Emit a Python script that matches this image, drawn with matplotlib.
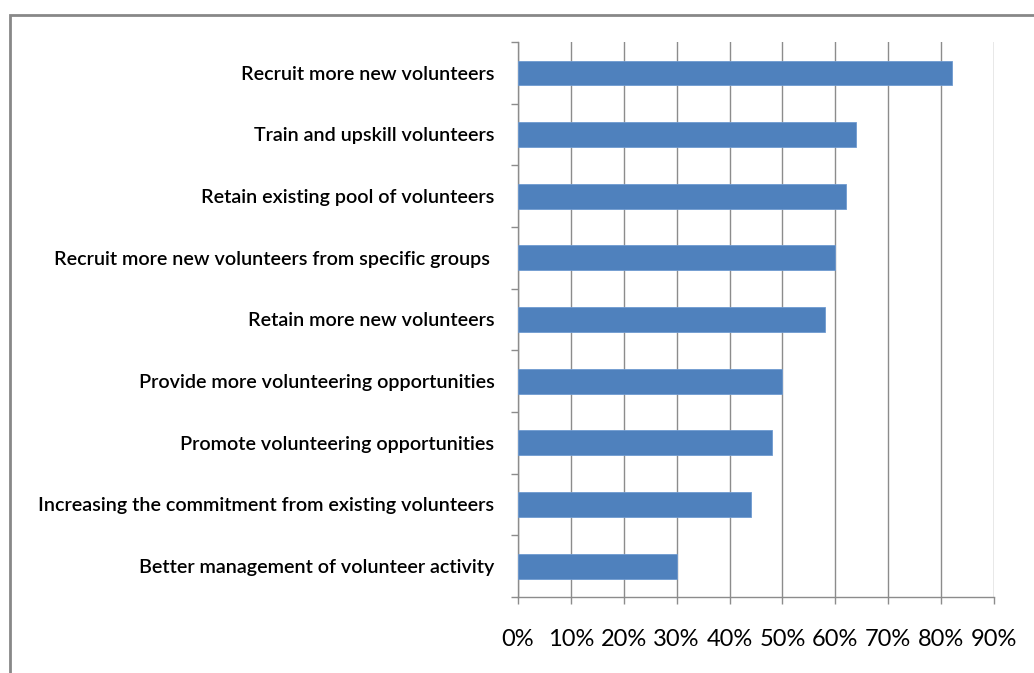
import matplotlib.pyplot as plt
from matplotlib.patches import Rectangle
from matplotlib.ticker import FixedLocator, PercentFormatter

# categories, top to bottom as in the chart
categories = [
    'Recruit more new volunteers',
    'Train and upskill volunteers',
    'Retain existing pool of volunteers',
    'Recruit more new volunteers from specific groups ',
    'Retain more new volunteers',
    'Provide more volunteering opportunities',
    'Promote volunteering opportunities',
    'Increasing the commitment from existing volunteers',
    'Better management of volunteer activity',
]
values = [82, 64, 62, 60, 58, 50, 48, 44, 30]
x_ticks = [0, 10, 20, 30, 40, 50, 60, 70, 80, 90]

plt.rcParams['font.family'] = ['Lato', 'DejaVu Sans']

fig = plt.figure(figsize=(10.34, 6.73), dpi=100)
ax = fig.add_axes([518 / 1034, 1 - 597 / 673, 476 / 1034, 555 / 673])

pos = list(range(len(categories)))[::-1]
ax.barh(pos, values, height=0.4, color='#4F81BD', edgecolor='#6f9ad0', linewidth=0.6, zorder=3)

ax.set_xlim(0, 90)
ax.set_ylim(-0.5, len(categories) - 0.5)
ax.set_xticks(x_ticks)
ax.xaxis.set_major_formatter(PercentFormatter(decimals=0))
ax.grid(axis='x', color='#8c8c8c', linewidth=1, zorder=0)

ax.set_yticks(pos)
ax.set_yticklabels(categories, fontsize=14.2, fontweight='semibold')
ax.yaxis.set_minor_locator(FixedLocator([p - 0.5 for p in range(len(categories) + 1)]))
ax.tick_params(axis='y', which='major', length=0, pad=17)
ax.tick_params(axis='y', which='minor', length=5, color='#8c8c8c', width=1)
ax.tick_params(axis='x', length=5, color='#8c8c8c', width=1, pad=18, labelsize=17)

for s in ['top', 'right']:
    ax.spines[s].set_visible(False)
for s in ['left', 'bottom']:
    ax.spines[s].set_color('#8c8c8c')
    ax.spines[s].set_linewidth(1)

# outer chart border
fig.patches.append(Rectangle((10 / 1034, -0.2), 1.2, 1.2 - 15 / 673, transform=fig.transFigure,
                             fill=False, edgecolor='#888888', linewidth=2))

fig.savefig('out.png', dpi=100)
